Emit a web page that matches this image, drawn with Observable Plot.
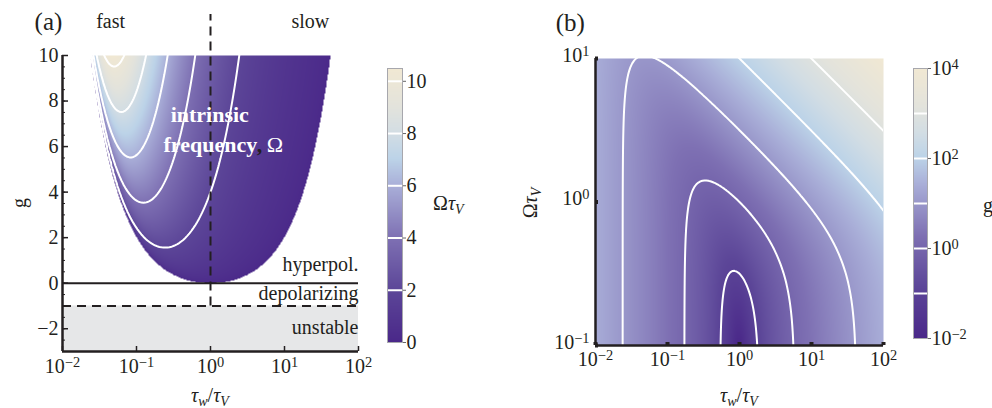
<!DOCTYPE html>
<html><head><meta charset="utf-8">
<script src="https://cdn.jsdelivr.net/npm/d3@7"></script>
<script src="https://cdn.jsdelivr.net/npm/@observablehq/plot@0.6"></script>
<style>
body{margin:0;background:#fff;}
#wrap{position:relative;width:992px;height:408px;overflow:hidden;font-family:"Liberation Serif",serif;color:#231f20;}
.lbl{position:absolute;font-family:"Liberation Serif",serif;font-size:20px;line-height:20px;white-space:nowrap;color:#231f20;}
.lbl sub{font-size:0.7em;vertical-align:-0.3em;line-height:0;}
</style></head><body><div id="wrap"></div>
<script>
// ---------- data ----------
// exponents of the decade ticks (tau_w/tau_V axis, both panels)
const R_EXP_TICKS = [-2, -1, 0, 1, 2];
// panel (a): g axis
const G_TICKS = [-2, 0, 2, 4, 6, 8, 10];
const G_MINOR = [-3, -2.5, -2, -1.5, -1, -0.5, 0, 0.5, 1, 1.5, 2, 2.5, 3, 3.5, 4, 4.5, 5, 5.5, 6, 6.5, 7, 7.5, 8, 8.5, 9, 9.5, 10];
const G_RANGE = [-3, 10];
// contour levels of Omega*tau_V in (a) and colour bar ticks
const OMEGA_LEVELS = [2, 4, 6, 8, 10];
const OMEGA_CB_TICKS = [0, 2, 4, 6, 8, 10];
const OMEGA_MAX = 10.49;
// boundaries in (a)
const G_HYPER = [0];          // solid line
const G_UNSTABLE = [-1];      // dashed line
const UNSTABLE_BAND = [{g1: -3, g2: -1}];
const R_CROSS = [{lr: 0, g1: -1, g2: 11.8}];  // tau_w = tau_V dashed divider
// panel (b): Omega*tau_V exponents, contour levels of log10 g, colour bar ticks
const W_EXP_TICKS = [-1, 0, 1];
const LOGG_LEVELS = [-1, 0, 1, 2, 3];
const LOGG_CB_TICKS = [-2, 0, 2, 4];
const LOGG_RANGE = [-2, 4];
// text labels
const REGION_LABELS = [
  {label: "hyperpol.", lr: 2, g: 0.8},
  {label: "depolarizing", lr: 2, g: -0.45},
  {label: "unstable", lr: 2, g: -1.95}
];
const HEADER_LABELS = [
  {label: "fast", lr: -1.35, g: 11.5},
  {label: "slow", lr: 1.35, g: 11.5}
];
const INNER_BOLD = [
  {label: "intrinsic", lr: -0.01, g: 7.38, anchor: "middle"},
  {label: "frequency", lr: -0.635, g: 6.05, anchor: "start"}
];
const INNER_COMMA = [{label: ",", lr: 0.625, g: 6.05}];
const INNER_OMEGA = [{label: "Ω", lr: 0.76, g: 6.05}];
const PANEL_A = [{label: "(a)", lr: -2.19, g: 11.45}];
const PANEL_B = [{label: "(b)", lr: -2.35, lw: 1.25}];

// colour ramp (purple -> light blue -> beige)
const RAMP_POS = [0, 0.19, 0.38, 0.57, 0.67, 0.76, 0.86, 1];
const RAMP_COL = ["#4a2889", "#5c4698", "#7e70b3", "#a9aed8", "#bcd3e8", "#d2dde4", "#e3e3dc", "#f1e8d3"];
const ramp = d3.scaleLinear().domain(RAMP_POS).range(RAMP_COL).interpolate(d3.interpolateRgb).clamp(true);

// linearised V-w model (time in units of tau_V, r = tau_w/tau_V)
function omega(r, g) {
  const v = (1 + g) / r - (1 + 1 / r) ** 2 / 4;
  return v > 0 ? Math.sqrt(v) : NaN;
}
function gain(r, w) { return r * w * w + (r - 1) ** 2 / (4 * r); }

// ---------- helpers ----------
const FONT = "'Liberation Serif', serif";
const INK = "#231f20";
const expFmt = d => `10^${d}`;
function supify(svg) {
  d3.select(svg).selectAll("text").each(function () {
    const m = /^10\^(-?\d+)$/.exec(this.textContent);
    if (!m) return;
    this.textContent = "10";
    const ts = document.createElementNS("http://www.w3.org/2000/svg", "tspan");
    ts.setAttribute("dy", "-0.42em");
    ts.setAttribute("font-size", "0.72em");
    ts.textContent = m[1].replace("-", "\u2212");
    this.appendChild(ts);
  });
  return svg;
}
const wrap = document.getElementById("wrap");
function place(el, left, top) {
  el.style.position = "absolute";
  el.style.left = left + "px";
  el.style.top = top + "px";
  wrap.appendChild(el);
}
function html(h, left, top, transform) {
  const d = document.createElement("div");
  d.className = "lbl";
  d.innerHTML = h;
  d.style.left = left + "px";
  d.style.top = top + "px";
  if (transform) d.style.transform = transform;
  wrap.appendChild(d);
}
const baseStyle = {fontFamily: FONT, fontSize: "20px", background: "transparent", overflow: "visible", color: INK};

// ---------- panel (a) ----------
const plotA = Plot.plot({
  width: 400, height: 408,
  marginLeft: 62, marginRight: 42, marginTop: 55, marginBottom: 57,
  x: {domain: [-2, 2], axis: null, label: null},
  y: {domain: G_RANGE, axis: null, label: null},
  color: {type: "linear", domain: [0, OMEGA_MAX], interpolate: ramp},
  style: baseStyle,
  marks: [
    Plot.rect(UNSTABLE_BAND, {x1: -2, x2: 2, y1: "g1", y2: "g2", fill: "#e6e7e8"}),
    Plot.raster({fill: (lr, g) => omega(10 ** lr, g), x1: -2, x2: 2, y1: G_RANGE[0], y2: G_RANGE[1]}),
    Plot.contour({
      value: (lr, g) => { const o = omega(10 ** lr, g); return isNaN(o) ? -1 : o; },
      x1: -2.3, x2: 2.3, y1: -3, y2: 10.8, thresholds: OMEGA_LEVELS,
      fill: "none", stroke: "white", strokeWidth: 2, clip: true
    }),
    Plot.ruleY(G_HYPER, {stroke: INK, strokeWidth: 2}),
    Plot.ruleY(G_UNSTABLE, {stroke: INK, strokeWidth: 2, strokeDasharray: "9,6"}),
    Plot.ruleX(R_CROSS, {x: "lr", y1: "g1", y2: "g2", stroke: INK, strokeWidth: 2, strokeDasharray: "9,6"}),
    Plot.ruleX([-2], {stroke: INK, strokeWidth: 2.5}),
    Plot.ruleY([-3], {stroke: INK, strokeWidth: 2.5}),
    Plot.axisY(G_MINOR, {anchor: "left", tickSize: -3, text: null, stroke: INK, label: null}),
    Plot.axisY(G_TICKS, {anchor: "left", tickSize: -6, text: null, stroke: INK, strokeWidth: 1.5, label: null}),
    Plot.axisY(G_TICKS, {anchor: "left", tickSize: 0, tickPadding: 4, fontSize: 20, fill: INK, label: null}),
    Plot.axisX(R_EXP_TICKS, {anchor: "bottom", tickSize: -5, text: null, stroke: INK, strokeWidth: 1.5, label: null}),
    Plot.axisX(R_EXP_TICKS, {anchor: "bottom", tickSize: 0, tickPadding: 7, tickFormat: expFmt, fontSize: 20, fill: INK, label: null}),
    Plot.text(REGION_LABELS, {x: "lr", y: "g", text: "label", textAnchor: "end", fontSize: 20, fill: INK}),
    Plot.text(HEADER_LABELS, {x: "lr", y: "g", text: "label", fontSize: 20, fill: INK}),
    Plot.text(PANEL_A, {x: "lr", y: "g", text: "label", fontSize: 25, fill: INK}),
    Plot.text(INNER_BOLD.filter(d => d.anchor === "middle"), {x: "lr", y: "g", text: "label", fontSize: 22, fontWeight: "bold", fill: "white"}),
    Plot.text(INNER_BOLD.filter(d => d.anchor === "start"), {x: "lr", y: "g", text: "label", textAnchor: "start", fontSize: 22, fontWeight: "bold", fill: "white"}),
    Plot.text(INNER_COMMA, {x: "lr", y: "g", text: "label", textAnchor: "start", fontSize: 22, fontWeight: "bold", fill: INK}),
    Plot.text(INNER_OMEGA, {x: "lr", y: "g", text: "label", textAnchor: "start", fontSize: 22, fill: "white"})
  ]
});
place(supify(plotA), 0, 0);

// colour bar (a)
const cbA = Plot.plot({
  width: 90, height: 300,
  marginLeft: 1, marginRight: 74, marginTop: 8, marginBottom: 18,
  x: {domain: [0, 1], axis: null, label: null},
  y: {domain: [0, OMEGA_MAX], axis: null, label: null},
  color: {type: "linear", domain: [0, OMEGA_MAX], interpolate: ramp},
  style: baseStyle,
  marks: [
    Plot.raster({fill: (x, y) => y, x1: 0, x2: 1, y1: 0, y2: OMEGA_MAX}),
    Plot.ruleY(OMEGA_LEVELS, {stroke: "white", strokeWidth: 2}),
    Plot.frame({stroke: "#a7a7ad"}),
    Plot.axisY(OMEGA_CB_TICKS, {anchor: "right", tickSize: 3, tickPadding: 1, fontSize: 20, fill: INK, stroke: "#666", label: null})
  ]
});
place(cbA, 386, 60);
html("Ω<i>τ</i><sub><i>V</i></sub>", 433, 193);

// ---------- panel (b) ----------
const logGain = (lr, lw) => Math.log10(gain(10 ** lr, 10 ** lw));
const plotB = Plot.plot({
  width: 420, height: 408,
  marginLeft: 95, marginRight: 37, marginTop: 58, marginBottom: 63,
  x: {domain: [-2, 2], axis: null, label: null},
  y: {domain: [-1, 1], axis: null, label: null},
  color: {type: "linear", domain: LOGG_RANGE, interpolate: ramp},
  style: baseStyle,
  marks: [
    Plot.raster({fill: logGain, x1: -2, x2: 2, y1: -1, y2: 1}),
    Plot.contour({
      value: logGain, x1: -2.2, x2: 2.2, y1: -1.2, y2: 1.2, thresholds: LOGG_LEVELS,
      fill: "none", stroke: "white", strokeWidth: 2, clip: true
    }),
    Plot.ruleX([-2], {stroke: INK, strokeWidth: 2.5}),
    Plot.ruleY([-1], {stroke: INK, strokeWidth: 2.5}),
    Plot.axisY(W_EXP_TICKS, {anchor: "left", tickSize: -3, text: null, stroke: INK, strokeWidth: 4, label: null}),
    Plot.axisY(W_EXP_TICKS, {anchor: "left", tickSize: 0, tickPadding: 6, dy: -3, tickFormat: expFmt, fontSize: 20, fill: INK, label: null}),
    Plot.axisX(R_EXP_TICKS, {anchor: "bottom", tickSize: -3, text: null, stroke: INK, strokeWidth: 4, label: null}),
    Plot.axisX(R_EXP_TICKS, {anchor: "bottom", tickSize: 0, tickPadding: 6, tickFormat: expFmt, fontSize: 20, fill: INK, label: null}),
    Plot.text(PANEL_B, {x: "lr", y: "lw", text: "label", fontSize: 25, fill: INK})
  ]
});
place(supify(plotB), 500, 0);

// colour bar (b)
const cbB = Plot.plot({
  width: 80, height: 290,
  marginLeft: 1, marginRight: 65, marginTop: 8, marginBottom: 12,
  x: {domain: [0, 1], axis: null, label: null},
  y: {domain: LOGG_RANGE, axis: null, label: null},
  color: {type: "linear", domain: LOGG_RANGE, interpolate: ramp},
  style: baseStyle,
  marks: [
    Plot.raster({fill: (x, y) => y, x1: 0, x2: 1, y1: LOGG_RANGE[0], y2: LOGG_RANGE[1]}),
    Plot.ruleY(LOGG_LEVELS, {stroke: "white", strokeWidth: 2}),
    Plot.frame({stroke: "#a7a7ad"}),
    Plot.axisY(LOGG_CB_TICKS, {anchor: "right", tickSize: 3, tickPadding: 1, tickFormat: expFmt, fontSize: 20, fill: INK, stroke: "#666", label: null})
  ]
});
place(supify(cbB), 912, 60);
html("g", 983, 195);

// axis titles
const tw = "<i>τ</i><sub><i>w</i></sub>/<i>τ</i><sub><i>V</i></sub>";
html(tw, 210, 385, "translateX(-50%)");
html(tw, 739, 385, "translateX(-50%)");
html("g", 19, 203, "translate(-50%,-50%) rotate(-90deg)");
html("Ω<i>τ</i><sub><i>V</i></sub>", 530, 203, "translate(-50%,-50%) rotate(-90deg)");
</script></body></html>
